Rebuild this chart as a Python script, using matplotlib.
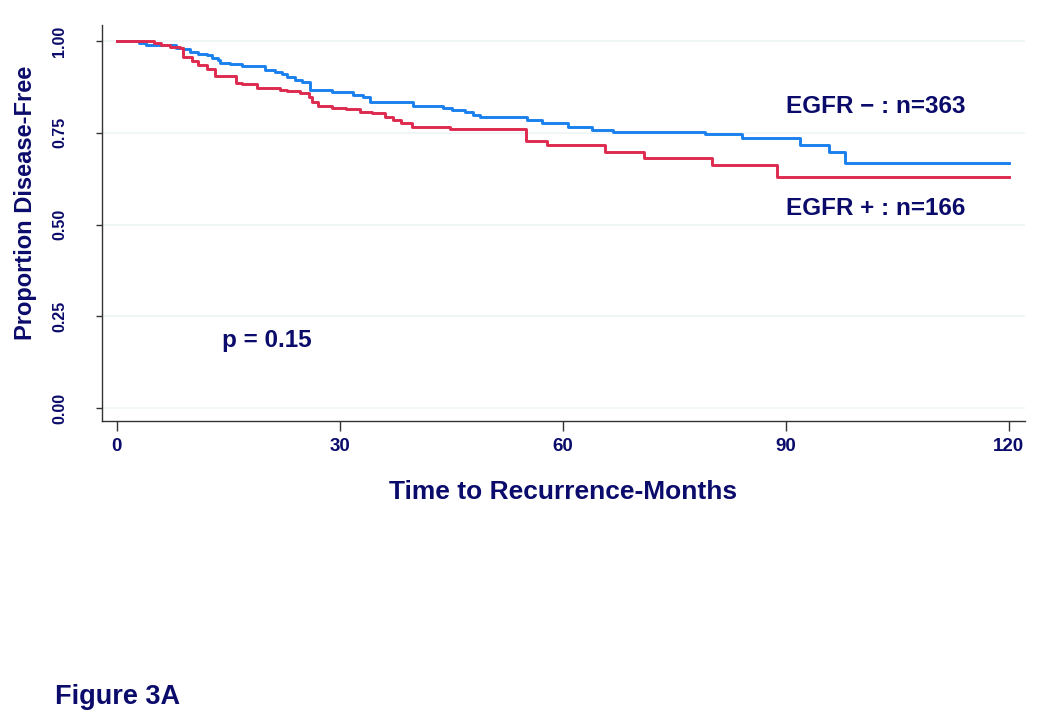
import matplotlib.pyplot as plt

# Kaplan-Meier steps (months, proportion disease-free)
neg_t = [0, 3.0, 3.9, 8.0, 8.9, 9.8, 10.9, 12.1, 12.8, 13.6, 13.9, 15.2, 16.8,
         19.9, 21.3, 22.2, 22.9, 24.0, 24.9, 26.0, 28.9, 31.8, 33.1, 34.1,
         39.8, 43.9, 45.1, 46.9, 47.9, 48.9, 55.2, 57.2, 60.7, 63.9, 66.8,
         79.1, 84.1, 91.9, 95.9, 98.0, 120]
neg_s = [1.000, 0.994, 0.989, 0.982, 0.978, 0.971, 0.966, 0.961, 0.955, 0.949,
         0.941, 0.937, 0.931, 0.922, 0.917, 0.911, 0.901, 0.895, 0.888, 0.867,
         0.861, 0.854, 0.847, 0.835, 0.824, 0.818, 0.813, 0.806, 0.799, 0.793,
         0.784, 0.776, 0.765, 0.759, 0.752, 0.747, 0.736, 0.718, 0.699, 0.669,
         0.669]

pos_t = [0, 5.0, 6.0, 7.1, 8.5, 8.9, 10.1, 10.9, 12.1, 13.2, 16.1, 16.8, 18.8,
         22.0, 22.9, 24.6, 25.8, 26.2, 27.1, 28.9, 30.9, 32.7, 34.3, 36.1,
         37.1, 38.3, 39.7, 44.8, 55.0, 57.9, 65.7, 70.9, 80.1, 88.9, 120]
pos_s = [1.000, 0.996, 0.990, 0.985, 0.982, 0.958, 0.946, 0.935, 0.925, 0.905,
         0.887, 0.882, 0.873, 0.868, 0.863, 0.858, 0.847, 0.833, 0.823, 0.818,
         0.814, 0.808, 0.805, 0.793, 0.784, 0.776, 0.765, 0.761, 0.729, 0.718,
         0.697, 0.682, 0.663, 0.629, 0.629]

xticks = [0, 30, 60, 90, 120]
yticks = [0, 0.25, 0.5, 0.75, 1.0]
ylabels = ['0.00', '0.25', '0.50', '0.75', '1.00']

navy = '#0b0b6b'
blue = '#1a80ee'
red = '#de2a4e'

plt.rcParams['font.family'] = ['Liberation Sans', 'DejaVu Sans']
plt.rcParams['font.weight'] = 'bold'

fig = plt.figure(figsize=(10.5, 7.23), dpi=100)
ax = fig.add_axes([0.0971, 0.4177, 0.8790, 0.5473])

for y in yticks:
    ax.axhline(y, color='#eef3f3', lw=1.2, zorder=0)

ax.step(neg_t, neg_s, where='post', color=blue, lw=2.1)
ax.step(pos_t, pos_s, where='post', color=red, lw=2.1)

ax.set_xlim(-2.0, 122.2)
ax.set_ylim(-0.035, 1.043)

for s in ['top', 'right']:
    ax.spines[s].set_visible(False)
for s in ['left', 'bottom']:
    ax.spines[s].set_color('#333333')
    ax.spines[s].set_linewidth(1.0)

ax.set_xticks(xticks)
ax.set_xticklabels([str(v) for v in xticks], fontsize=13.5, fontweight='bold', color=navy)
ax.set_yticks(yticks)
ax.set_yticklabels(ylabels, fontsize=11.5, fontweight='bold', color=navy,
                   rotation=90, va='center')
ax.tick_params(axis='x', length=7, width=1, color='#333333', pad=5)
ax.tick_params(axis='y', length=4, width=1, color='#333333', pad=21)

ax.set_xlabel('Time to Recurrence-Months', fontsize=19, fontweight='bold',
              color=navy, labelpad=18)
ax.set_ylabel('Proportion Disease-Free', fontsize=17, fontweight='bold',
              color=navy)
ax.yaxis.set_label_coords(-0.0705, 0.55)

ax.text(90.0, 0.822, 'EGFR \u2212 : n=363', fontsize=17.5, fontweight='bold',
        color=navy, va='center', ha='left')
ax.text(90.0, 0.544, 'EGFR + : n=166', fontsize=17.5, fontweight='bold',
        color=navy, va='center', ha='left')
ax.text(14.2, 0.185, 'p = 0.15', fontsize=17.5, fontweight='bold',
        color=navy, va='center', ha='left')

fig.text(55 / 1050, 1 - 697 / 723, 'Figure 3A', fontsize=19.5, fontweight='bold',
         color=navy, va='center', ha='left')

fig.savefig('out.png', dpi=100, facecolor='white')
